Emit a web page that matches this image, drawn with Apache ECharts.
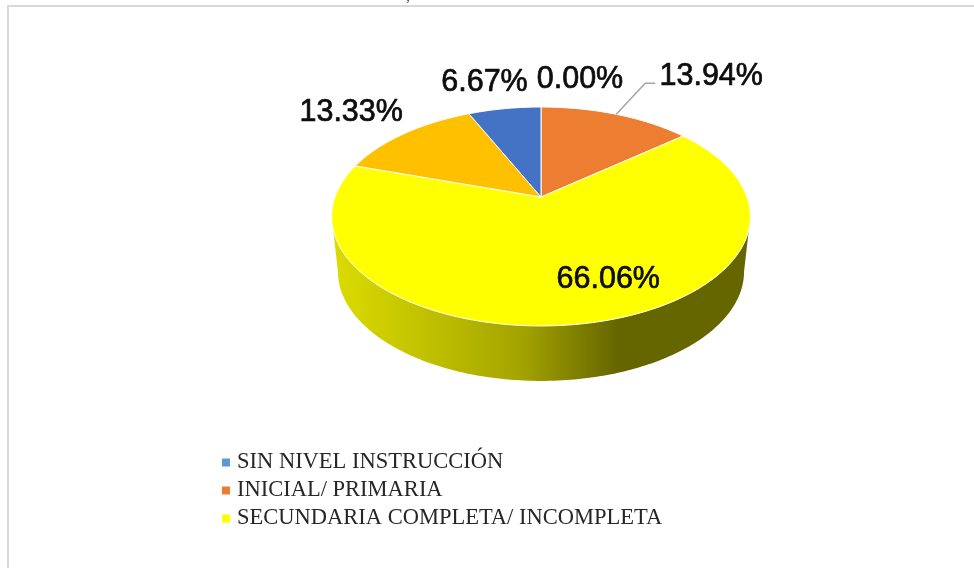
<!DOCTYPE html>
<html>
<head>
<meta charset="utf-8">
<style>html,body{margin:0;padding:0;background:#fff}#c{width:974px;height:568px}</style>
<script src="https://cdn.jsdelivr.net/npm/echarts@6/dist/echarts.min.js"></script>
</head>
<body>
<div id="c"></div>
<script>
// Data, in drawing order clockwise from 12 o'clock
var categories = ['SIN NIVEL INSTRUCCIÓN', 'INICIAL/ PRIMARIA', 'SECUNDARIA COMPLETA/ INCOMPLETA', 'SUPERIOR INCOMPLETA', 'SUPERIOR COMPLETA'];
var values = [0.00, 13.94, 66.06, 13.33, 6.67];
var sliceColors = ['#5B9BD5', '#ED7D31', '#FFFF00', '#FFC000', '#4472C4'];
var legendNames = ['SIN NIVEL INSTRUCCIÓN', 'INICIAL/ PRIMARIA', 'SECUNDARIA COMPLETA/ INCOMPLETA'];

// Hand-tuned label offsets from each slice's mid-angle rim point
var labelOffsets = [[39, -27], [95, -38], [20, -44], [-53, -21], [-20, -26]];

// Perspective projection of the pie's disc
var view = { cx: 541, cy: 197, rx: 206, ry: 106, persp: 0.178, depth: 55, baseScale: 0.97 };
function project(deg, isBase) {
  var t = deg * Math.PI / 180, w = 1 + view.persp * Math.cos(t);
  return [
    view.cx + (isBase ? view.baseScale : 1) * view.rx * Math.sin(t) / w,
    view.cy + (isBase ? view.depth : 0) - view.ry * Math.cos(t) / w
  ];
}
var total = values.reduce(function (a, b) { return a + b; }, 0);
function startDeg(i) {
  var s = 0;
  for (var k = 0; k < i; k++) s += values[k];
  return s / total * 360;
}
function arc(a, b, isBase) {
  var pts = [], n = Math.max(1, Math.ceil(Math.abs(b - a)));
  for (var k = 0; k <= n; k++) pts.push(project(a + (b - a) * k / n, isBase));
  return pts;
}
var SIDE_FROM = 100.2, SIDE_TO = 259.8;

function makeRender(i) {
  return function (params, api) {
    var v = api.value(0), a = startDeg(i), b = a + v / total * 360, kids = [];
    var mid = project((a + b) / 2);
    var sa = Math.max(a, SIDE_FROM), sb = Math.min(b, SIDE_TO);
    if (sb > sa) {
      kids.push({
        type: 'polygon', z2: 1,
        shape: { points: arc(sa, sb).concat(arc(sb, sa, true)) },
        style: {
          fill: new echarts.graphic.LinearGradient(0, 0, 1, 0, [
            { offset: 0, color: '#dcdc00' },
            { offset: 0.2, color: '#c4c400' },
            { offset: 0.45, color: '#a4a400' },
            { offset: 0.68, color: '#666600' },
            { offset: 1, color: '#666600' }
          ])
        }
      });
    }
    if (v > 0) {
      kids.push({
        type: 'polygon', z2: 2,
        shape: { points: [[view.cx, view.cy]].concat(arc(a, b)) },
        style: { fill: sliceColors[i], stroke: '#ffffff', lineWidth: 1 }
      });
    }
    var off = labelOffsets[i], lx = mid[0] + off[0], ly = mid[1] + off[1];
    if (i === 1) {
      kids.push({
        type: 'polyline', z2: 5,
        shape: { points: [mid, [lx - 66, ly + 7], [lx - 56, ly + 7]] },
        style: { stroke: '#a6a6a6', lineWidth: 1.5, fill: null }
      });
    }
    kids.push({
      type: 'text', z2: 6,
      x: lx, y: ly,
      style: {
        text: v.toFixed(2) + '%',
        fill: '#0d0d0d',
        stroke: '#0d0d0d',
        lineWidth: 0.7,
        font: '30.5px "Liberation Sans", Arial, sans-serif',
        align: 'center', verticalAlign: 'middle'
      }
    });
    return { type: 'group', children: kids };
  };
}

var chart = echarts.init(document.getElementById('c'), null, { renderer: 'canvas' });
chart.setOption({
  animation: false,
  backgroundColor: '#ffffff',
  legend: {
    data: legendNames,
    orient: 'vertical',
    left: 217, top: 446,
    itemWidth: 8, itemHeight: 8, itemGap: 5,
    icon: 'rect',
    selectedMode: false,
    textStyle: { fontFamily: '"Liberation Serif", "Times New Roman", serif', fontSize: 22.5, color: '#262626', padding: [0, 0, 0, 2] }
  },
  graphic: [
    { type: 'polyline', z: 1, shape: { points: [[8, 568], [8, 6], [974, 6]] }, style: { stroke: '#d9d9d9', lineWidth: 2, fill: null } },
    { type: 'text', left: 406, top: -11, style: { text: ',', fill: '#555', font: '16px "Liberation Serif", serif' } }
  ],
  series: categories.map(function (name, i) {
    return {
      type: 'custom',
      name: name,
      coordinateSystem: 'none',
      silent: true,
      itemStyle: { color: sliceColors[i] },
      renderItem: makeRender(i),
      data: [[values[i]]]
    };
  })
});
</script>
</body>
</html>
